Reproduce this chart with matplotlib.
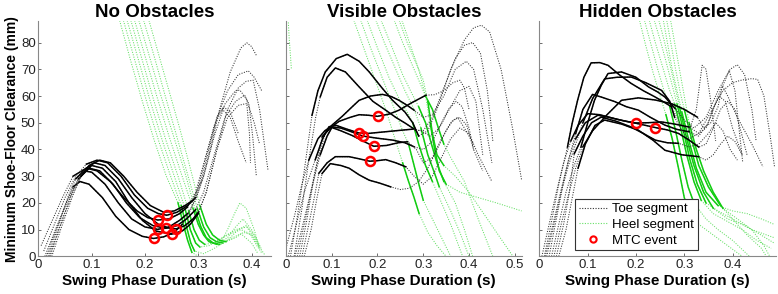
import matplotlib
matplotlib.use('Agg')
import matplotlib.pyplot as plt
from matplotlib.lines import Line2D

plt.rcParams['font.family'] = ['Liberation Sans', 'DejaVu Sans']

# ---------------------------------------------------------------
# data: each curve is a list of (time s, clearance mm) points,
# solid = (first, last) index of the analysed segment
# ---------------------------------------------------------------
titles = ['No Obstacles', 'Visible Obstacles', 'Hidden Obstacles']

# ---- No obstacles ----
no_toe = [
    [(0.012, 0), (0.03, 9), (0.05, 19), (0.065, 26), (0.078, 28), (0.095, 27), (0.12, 22), (0.145, 15),
     (0.17, 10), (0.195, 7.5), (0.216, 6.7), (0.235, 7.3), (0.255, 9), (0.27, 12), (0.285, 17), (0.30, 26),
     (0.315, 38), (0.33, 49), (0.345, 55), (0.36, 52), (0.375, 43), (0.39, 35)],
    [(0.018, 0), (0.035, 10), (0.055, 22), (0.07, 29), (0.085, 32), (0.10, 31.5), (0.125, 27), (0.15, 20),
     (0.175, 14), (0.20, 11), (0.224, 10.1), (0.245, 11), (0.265, 13.5), (0.28, 16), (0.295, 21), (0.31, 30),
     (0.33, 45), (0.35, 57), (0.37, 62), (0.378, 62.2), (0.39, 59), (0.405, 50), (0.415, 42)],
    [(0.005, 4), (0.025, 13), (0.045, 22), (0.065, 30), (0.09, 33), (0.11, 32), (0.135, 28), (0.16, 22),
     (0.185, 17), (0.205, 14.5), (0.224, 13.6), (0.245, 14), (0.265, 16), (0.28, 18.5), (0.295, 24),
     (0.315, 38), (0.335, 52), (0.355, 62), (0.375, 68), (0.394, 69.4), (0.405, 67), (0.419, 62)],
    [(0.022, 0), (0.04, 11), (0.06, 22), (0.075, 29), (0.095, 33), (0.115, 32), (0.14, 27), (0.165, 20),
     (0.19, 14.5), (0.215, 11.5), (0.239, 10.5), (0.26, 11.5), (0.278, 14), (0.295, 17.5), (0.31, 24),
     (0.33, 38), (0.35, 52), (0.37, 58), (0.387, 60.3), (0.395, 57), (0.402, 45), (0.409, 30)],
    [(0.01, 2), (0.03, 12), (0.05, 22), (0.07, 30), (0.09, 34.5), (0.11, 36), (0.13, 35), (0.155, 30),
     (0.18, 23), (0.205, 18), (0.225, 16), (0.241, 15.4), (0.26, 16.5), (0.28, 19), (0.295, 22), (0.31, 30),
     (0.325, 42), (0.34, 55), (0.36, 69), (0.38, 78), (0.391, 79.9), (0.40, 78.5), (0.409, 75.2)],
    [(0.025, 0), (0.045, 12), (0.065, 23), (0.08, 30), (0.10, 34), (0.12, 33), (0.145, 28), (0.17, 20),
     (0.195, 13.5), (0.22, 9.5), (0.25, 8.3), (0.27, 9.5), (0.285, 12), (0.30, 16), (0.315, 24), (0.335, 40),
     (0.355, 52), (0.375, 56.5), (0.391, 57.2), (0.396, 46), (0.398, 35)],
    [(0.015, 0), (0.035, 11), (0.055, 21), (0.075, 29), (0.09, 33), (0.105, 35), (0.125, 34), (0.15, 29),
     (0.175, 22), (0.20, 16), (0.225, 12), (0.245, 10.6), (0.259, 10.3), (0.275, 11.5), (0.29, 14),
     (0.30, 16.5), (0.315, 24), (0.335, 40), (0.355, 55), (0.375, 63), (0.39, 65.5), (0.403, 65.9),
     (0.415, 55), (0.431, 32)],
    [(0.02, 0), (0.04, 11), (0.06, 22), (0.08, 30), (0.095, 34), (0.115, 36), (0.135, 35), (0.16, 30),
     (0.185, 24), (0.21, 19), (0.235, 16.5), (0.255, 17), (0.275, 19), (0.29, 21), (0.305, 28), (0.32, 40),
     (0.335, 52), (0.347, 56), (0.36, 54), (0.375, 46)],
]
no_toe_solid = [(3, 13), (3, 13), (3, 13), (3, 13), (4, 14), (3, 13), (4, 15), (3, 13)]

no_heel = [
    [(0.150, 90), (0.172, 74), (0.195, 58), (0.218, 43), (0.24, 30), (0.262, 20), (0.272, 12), (0.28, 6),
     (0.288, 1.5), (0.30, 0)],
    [(0.157, 90), (0.18, 74), (0.203, 58), (0.226, 43), (0.248, 30), (0.268, 19), (0.278, 11), (0.286, 5),
     (0.293, 2), (0.31, 1), (0.33, 3), (0.355, 6), (0.38, 8.5), (0.40, 5), (0.412, 1)],
    [(0.164, 90), (0.187, 74), (0.21, 58), (0.233, 43), (0.255, 30), (0.275, 18), (0.285, 10), (0.295, 5),
     (0.303, 3.5), (0.32, 4), (0.345, 7), (0.37, 10), (0.391, 11), (0.405, 7), (0.415, 3)],
    [(0.171, 90), (0.194, 74), (0.217, 58), (0.24, 43), (0.262, 30), (0.282, 17), (0.292, 10), (0.302, 6),
     (0.312, 4.5), (0.33, 5), (0.355, 8), (0.38, 10), (0.397, 8.5), (0.41, 4), (0.42, 1)],
    [(0.178, 90), (0.2, 75), (0.222, 60), (0.245, 45), (0.268, 31), (0.29, 18), (0.30, 12), (0.31, 8),
     (0.32, 5.5), (0.335, 4.5), (0.355, 7), (0.37, 11), (0.384, 14), (0.40, 10), (0.415, 4)],
    [(0.186, 90), (0.208, 75), (0.23, 60), (0.252, 46), (0.274, 32), (0.295, 17), (0.305, 11), (0.315, 7),
     (0.328, 5), (0.34, 4.5), (0.355, 10), (0.368, 16), (0.378, 20), (0.39, 18), (0.405, 10), (0.415, 3)],
    [(0.195, 90), (0.217, 75), (0.238, 60), (0.258, 46), (0.278, 32), (0.298, 18), (0.31, 11), (0.322, 7),
     (0.334, 5.5), (0.346, 5), (0.36, 7), (0.375, 10), (0.39, 11.5), (0.405, 8), (0.418, 3)],
    [(0.205, 90), (0.225, 76), (0.245, 62), (0.265, 48), (0.285, 33), (0.303, 19), (0.315, 12), (0.327, 8),
     (0.34, 6), (0.352, 5.5), (0.37, 7), (0.385, 9), (0.40, 8), (0.413, 4), (0.425, 0.5)],
]
no_heel_solid = [(5, 8), (5, 8), (5, 8), (5, 8), (5, 9), (5, 9), (5, 9), (5, 9)]

no_mtc_x = [0.216, 0.224, 0.224, 0.241, 0.239, 0.250, 0.259]
no_mtc_y = [6.7, 13.6, 10.1, 15.4, 10.5, 8.3, 10.3]

# ---- Visible obstacles ----
vis_toe = [
    [(0.01, 0), (0.025, 15), (0.04, 32), (0.057, 52.8), (0.07, 62), (0.086, 69), (0.11, 74), (0.134, 75.6),
     (0.16, 73), (0.182, 69), (0.21, 63), (0.233, 58.4), (0.26, 54), (0.277, 50), (0.29, 45), (0.31, 47),
     (0.33, 55), (0.36, 70), (0.39, 81), (0.41, 85.5), (0.427, 86.5), (0.445, 84), (0.47, 70), (0.495, 48),
     (0.515, 28.5)],
    [(0.018, 0), (0.035, 18), (0.05, 36), (0.065, 52), (0.075, 59.7), (0.09, 67), (0.108, 70.5), (0.13, 69),
     (0.16, 63.4), (0.19, 58), (0.218, 54.7), (0.24, 52), (0.262, 49.7), (0.284, 47.2), (0.30, 47),
     (0.32, 52), (0.345, 63), (0.37, 74), (0.39, 79), (0.408, 80), (0.425, 76), (0.44, 62), (0.452, 43.2)],
    [(0.03, 0), (0.045, 13), (0.06, 28), (0.079, 44.7), (0.10, 49), (0.123, 52.4), (0.145, 56), (0.16, 58.4),
     (0.185, 60), (0.211, 60.6), (0.23, 59.8), (0.247, 58.4), (0.265, 56.5), (0.28, 54.7), (0.30, 52),
     (0.32, 53), (0.345, 60), (0.37, 70), (0.394, 73), (0.41, 70), (0.43, 55), (0.45, 35)],
    [(0.025, 0), (0.045, 16), (0.065, 33), (0.086, 46), (0.10, 48.5), (0.116, 50.5), (0.14, 52), (0.16, 53),
     (0.18, 52.8), (0.20, 52.4), (0.225, 53.2), (0.247, 54.7), (0.275, 57.5), (0.306, 60.3), (0.325, 60.5),
     (0.345, 62), (0.365, 65), (0.38, 65.9), (0.39, 63), (0.40, 55)],
    [(0.005, 0), (0.02, 10), (0.04, 24), (0.064, 36.1), (0.08, 44), (0.094, 48.5), (0.11, 49), (0.135, 47.5),
     (0.159, 46.2), (0.18, 46), (0.21, 46.5), (0.24, 47), (0.277, 47.6), (0.295, 47), (0.315, 45),
     (0.335, 48), (0.36, 56), (0.38, 62), (0.40, 63.6), (0.415, 58), (0.43, 38)],
    [(0.02, 0), (0.04, 14), (0.06, 28), (0.075, 38), (0.09, 45), (0.101, 48.4), (0.12, 48), (0.145, 46.5),
     (0.168, 45), (0.2, 44.2), (0.233, 43.5), (0.26, 42.5), (0.28, 41), (0.30, 40), (0.32, 43), (0.34, 50),
     (0.355, 55), (0.372, 58), (0.385, 56), (0.40, 48), (0.41, 40)],
    [(0.0, 3), (0.02, 16), (0.035, 27), (0.05, 36), (0.07, 44), (0.085, 47), (0.097, 48.4), (0.12, 47),
     (0.145, 45.2), (0.17, 43), (0.192, 41.2), (0.22, 41.5), (0.245, 42.5), (0.266, 42.9), (0.285, 40),
     (0.30, 35), (0.32, 37), (0.34, 44), (0.36, 50), (0.375, 52), (0.39, 48), (0.41, 42)],
    [(0.035, 0), (0.05, 12), (0.062, 22), (0.072, 31.1), (0.09, 35), (0.108, 37.3), (0.138, 37.3),
     (0.16, 36.5), (0.183, 35.6), (0.2, 35.8), (0.218, 36.2), (0.24, 35), (0.262, 33.5), (0.28, 30),
     (0.30, 27), (0.32, 30), (0.34, 37), (0.36, 44), (0.38, 48), (0.40, 46), (0.42, 38), (0.45, 28)],
    [(0.04, 0), (0.055, 10), (0.068, 22), (0.079, 31), (0.097, 34.7), (0.12, 34), (0.138, 33), (0.16, 30.5),
     (0.182, 28.5), (0.205, 27.4), (0.229, 26), (0.25, 25), (0.27, 25.5), (0.29, 28), (0.31, 33), (0.33, 40),
     (0.35, 47), (0.365, 51), (0.38, 52), (0.395, 49), (0.41, 40), (0.43, 32)],
]
vis_toe_solid = [(3, 14), (4, 13), (3, 13), (3, 13), (3, 12), (3, 12), (3, 13), (3, 12), (3, 10)]

vis_heel = [
    [(0.003, 95), (0.007, 82), (0.012, 70)],
    [(0.145, 90), (0.17, 78), (0.195, 66), (0.22, 54), (0.24, 43), (0.255, 35), (0.268, 28), (0.28, 22),
     (0.291, 16), (0.31, 9), (0.33, 4), (0.35, 0)],
    [(0.16, 90), (0.185, 78), (0.21, 67), (0.235, 56), (0.255, 47), (0.268, 42), (0.28, 34), (0.292, 26),
     (0.30, 21), (0.32, 14), (0.34, 7), (0.36, 0)],
    [(0.174, 90), (0.20, 78), (0.225, 67), (0.25, 58), (0.265, 54), (0.277, 50), (0.29, 42), (0.305, 34),
     (0.32, 28), (0.34, 20), (0.36, 12), (0.386, 0)],
    [(0.193, 90), (0.215, 80), (0.24, 70), (0.26, 62), (0.28, 55), (0.295, 48), (0.31, 38), (0.325, 31),
     (0.335, 26), (0.36, 17), (0.38, 9), (0.40, 0)],
    [(0.204, 90), (0.23, 79), (0.255, 68), (0.275, 61), (0.29, 56), (0.305, 50), (0.318, 42), (0.33, 35),
     (0.345, 28), (0.37, 20), (0.39, 10), (0.408, 0)],
    [(0.233, 90), (0.255, 80), (0.275, 72), (0.29, 66), (0.305, 60), (0.32, 55), (0.335, 47), (0.345, 42),
     (0.36, 37), (0.39, 28), (0.42, 14), (0.452, 0)],
    [(0.244, 90), (0.265, 80), (0.285, 72), (0.3, 66), (0.31, 58), (0.32, 46), (0.33, 38), (0.345, 34),
     (0.37, 30), (0.40, 24), (0.44, 14), (0.496, 0)],
    [(0.25, 90), (0.27, 80), (0.29, 70), (0.305, 60), (0.315, 50), (0.325, 40), (0.335, 32), (0.35, 27),
     (0.38, 24), (0.42, 22), (0.46, 20), (0.515, 17)],
]
vis_heel_solid = [None, (5, 8), (5, 8), (5, 8), (5, 8), (4, 8), (4, 7), (4, 7), (4, 7)]

vis_mtc_x = [0.201, 0.159, 0.168, 0.192, 0.183]
vis_mtc_y = [52.4, 46.2, 45.0, 41.2, 35.6]

# ---- Hidden obstacles ----
hid_toe = [
    [(0.01, 0), (0.025, 13), (0.04, 27), (0.058, 40.9), (0.068, 50), (0.079, 58.4), (0.092, 67),
     (0.107, 72.4), (0.125, 72.5), (0.142, 71.5), (0.165, 68), (0.19, 64.7), (0.215, 62), (0.24, 59.6),
     (0.26, 57.5), (0.274, 55.9), (0.29, 50), (0.31, 47), (0.325, 55), (0.337, 71.5), (0.345, 70),
     (0.355, 58), (0.365, 43.2)],
    [(0.02, 0), (0.035, 14), (0.05, 28), (0.063, 38), (0.075, 45.9), (0.09, 55), (0.11, 60.6), (0.13, 59.5),
     (0.156, 57.9), (0.18, 56), (0.205, 54.7), (0.23, 52), (0.26, 49.1), (0.285, 47.5), (0.31, 46.6),
     (0.33, 45), (0.35, 50), (0.37, 60), (0.385, 66), (0.393, 69.6), (0.405, 62), (0.421, 35.3)],
    [(0.025, 0), (0.04, 12), (0.055, 24), (0.07, 33), (0.086, 40.9), (0.10, 50), (0.114, 58.4), (0.128, 64),
     (0.142, 68.4), (0.17, 69), (0.20, 67), (0.226, 63.4), (0.245, 61.5), (0.26, 59.6), (0.281, 55.3),
     (0.30, 51), (0.32, 48), (0.345, 52), (0.37, 62), (0.395, 70), (0.41, 71.7), (0.425, 68), (0.44, 55),
     (0.449, 43)],
    [(0.015, 0), (0.03, 12), (0.045, 24), (0.06, 34), (0.075, 42), (0.09, 50), (0.11, 59), (0.135, 66.4),
     (0.16, 67), (0.19, 67.1), (0.22, 65), (0.253, 62.1), (0.27, 58), (0.28, 52), (0.295, 47), (0.31, 44),
     (0.33, 46), (0.355, 54), (0.38, 62), (0.40, 65), (0.42, 66), (0.44, 66.5), (0.452, 66.2), (0.465, 60),
     (0.478, 45), (0.487, 33.5)],
    [(0.03, 0), (0.045, 12), (0.06, 23), (0.075, 33), (0.09, 41), (0.11, 47), (0.14, 53), (0.17, 58.4),
     (0.205, 59.3), (0.24, 58.5), (0.274, 57.1), (0.30, 55), (0.327, 52.1), (0.34, 48), (0.355, 50),
     (0.37, 56), (0.379, 63.8), (0.39, 60), (0.41, 52), (0.44, 42), (0.463, 33.5)],
    [(0.005, 0), (0.02, 12), (0.035, 24), (0.05, 35), (0.065, 43.2), (0.08, 49), (0.10, 53.4), (0.125, 53),
     (0.156, 51.5), (0.18, 50.5), (0.199, 49.9), (0.225, 50), (0.253, 50.3), (0.28, 49.5), (0.31, 48.4),
     (0.33, 46), (0.345, 48), (0.36, 55), (0.372, 60), (0.385, 58), (0.40, 48), (0.42, 38)],
    [(0.012, 0), (0.028, 12), (0.045, 25), (0.06, 36), (0.075, 44), (0.095, 50), (0.121, 52.8), (0.145, 52),
     (0.17, 50.9), (0.2, 49.8), (0.24, 48.2), (0.265, 47.3), (0.288, 46), (0.31, 43.5), (0.33, 40.9),
     (0.345, 42), (0.36, 48), (0.375, 55), (0.39, 58), (0.405, 55), (0.42, 45), (0.43, 38)],
    [(0.035, 0), (0.05, 12), (0.062, 24), (0.072, 38.4), (0.09, 45), (0.108, 50), (0.128, 52.1),
     (0.16, 50.5), (0.19, 48.4), (0.215, 46), (0.24, 43.5), (0.265, 42.5), (0.288, 42.3), (0.31, 41),
     (0.33, 42), (0.35, 46), (0.365, 50), (0.38, 47), (0.395, 40), (0.41, 36)],
    [(0.04, 0), (0.055, 10), (0.068, 22), (0.08, 33), (0.095, 42), (0.115, 49), (0.135, 51), (0.17, 49.5),
     (0.205, 47.2), (0.235, 43.5), (0.26, 39.7), (0.295, 38), (0.33, 37.3), (0.345, 36), (0.36, 38),
     (0.375, 42), (0.39, 45), (0.405, 43), (0.42, 38)],
]
hid_toe_solid = [(3, 15), (4, 14), (4, 14), (5, 13), (4, 12), (4, 14), (4, 14), (3, 12), (3, 12)]

hid_heel = [
    [(0.205, 90), (0.22, 79), (0.235, 69), (0.25, 60), (0.262, 53), (0.275, 44), (0.288, 33), (0.30, 22),
     (0.31, 17), (0.33, 12), (0.36, 8), (0.39, 4), (0.42, 0)],
    [(0.215, 90), (0.23, 80), (0.245, 70), (0.258, 62), (0.27, 56), (0.282, 47), (0.295, 36), (0.308, 26),
     (0.32, 20), (0.345, 14), (0.37, 10), (0.40, 6), (0.435, 0)],
    [(0.225, 90), (0.24, 80), (0.255, 71), (0.268, 63), (0.28, 57), (0.29, 50), (0.305, 38), (0.32, 28),
     (0.335, 21), (0.36, 16), (0.39, 13), (0.42, 10), (0.45, 6), (0.48, 3)],
    [(0.235, 90), (0.25, 81), (0.262, 73), (0.275, 64), (0.285, 57), (0.297, 48), (0.312, 36), (0.327, 27),
     (0.345, 20), (0.37, 17), (0.40, 14), (0.44, 10), (0.486, 7)],
    [(0.245, 90), (0.258, 81), (0.27, 72), (0.28, 64), (0.29, 56), (0.305, 44), (0.32, 34), (0.34, 24),
     (0.36, 18), (0.39, 14), (0.42, 12), (0.45, 9), (0.486, 5)],
    [(0.255, 90), (0.265, 80), (0.275, 70), (0.285, 62), (0.295, 54), (0.31, 43), (0.325, 33), (0.345, 24),
     (0.37, 19), (0.40, 17), (0.43, 16), (0.46, 14), (0.486, 12)],
    [(0.262, 90), (0.272, 80), (0.282, 70), (0.292, 61), (0.30, 55), (0.315, 44), (0.33, 34), (0.35, 26),
     (0.375, 19), (0.40, 14), (0.43, 8), (0.46, 3), (0.47, 0)],
    [(0.27, 90), (0.28, 80), (0.29, 70), (0.3, 60), (0.31, 50), (0.325, 40), (0.34, 32), (0.36, 24),
     (0.38, 18), (0.41, 14), (0.44, 10), (0.465, 4), (0.477, 0)],
]
hid_heel_solid = [(4, 8), (4, 8), (4, 8), (4, 8), (4, 8), (4, 8), (4, 8), (4, 8)]

hid_mtc_x = [0.199, 0.240]
hid_mtc_y = [49.9, 48.2]

x_limits = [0.436, 0.515, 0.49]
x_ticks = [[0, 0.1, 0.2, 0.3, 0.4], [0, 0.1, 0.2, 0.3, 0.4, 0.5], [0, 0.1, 0.2, 0.3, 0.4]]

panels = [
    (no_toe, no_toe_solid, no_heel, no_heel_solid, no_mtc_x, no_mtc_y),
    (vis_toe, vis_toe_solid, vis_heel, vis_heel_solid, vis_mtc_x, vis_mtc_y),
    (hid_toe, hid_toe_solid, hid_heel, hid_heel_solid, hid_mtc_x, hid_mtc_y),
]

# ---------------------------------------------------------------
TOE_DOT = '#333333'
HEEL_DOT = '#66e066'
HEEL_SOLID = '#11cc11'
dots = (0, (1, 1.4))

fig = plt.figure(figsize=(7.78, 2.94), dpi=100)
boxes = [[0.0494, 0.128, 0.2986, 0.800],
         [0.3675, 0.128, 0.3030, 0.800],
         [0.6934, 0.128, 0.3040, 0.800]]


def draw_curves(ax, curves, solids, dot_color, solid_color, lw_solid):
    for pts, sol in zip(curves, solids):
        xs = [p[0] for p in pts]
        ys = [p[1] for p in pts]
        ax.plot(xs, ys, linestyle=dots, color=dot_color, linewidth=0.75)
        if sol is not None:
            i0, i1 = sol
            ax.plot(xs[i0:i1 + 1], ys[i0:i1 + 1], '-', color=solid_color, linewidth=lw_solid)


for i, (toe, toe_sol, heel, heel_sol, mx, my) in enumerate(panels):
    ax = fig.add_axes(boxes[i])
    draw_curves(ax, heel, heel_sol, HEEL_DOT, HEEL_SOLID, 1.1)
    draw_curves(ax, toe, toe_sol, TOE_DOT, 'black', 1.1)
    ax.plot(mx, my, 'o', markersize=6.5, markerfacecolor='none',
            markeredgecolor='red', markeredgewidth=1.8, zorder=5)

    ax.set_xlim(0, x_limits[i])
    ax.set_ylim(0, 88)
    ax.set_xticks(x_ticks[i])
    ax.set_xticklabels(['0' if t == 0 else f'{t:.1f}' for t in x_ticks[i]])
    ax.set_yticks(range(0, 90, 10))
    if i == 0:
        ax.set_ylabel('Minimum Shoe-Floor Clearance (mm)', fontsize=10, fontweight='bold', labelpad=1)
    else:
        ax.set_yticklabels([])
    ax.set_xlabel('Swing Phase Duration (s)', fontsize=11, fontweight='bold', labelpad=2)
    ax.set_title(titles[i], fontsize=13.5, fontweight='bold', pad=3)
    ax.tick_params(direction='in', length=2.5, width=0.6, labelsize=9.5, pad=2, colors='#555555',
                   labelcolor='#222222')
    for side in ('top', 'right'):
        ax.spines[side].set_visible(False)
    for side in ('left', 'bottom'):
        ax.spines[side].set_color('#888888')
        ax.spines[side].set_linewidth(0.8)

    if i == 2:
        handles = [
            Line2D([], [], linestyle=dots, color=TOE_DOT, linewidth=0.8),
            Line2D([], [], linestyle=dots, color=HEEL_DOT, linewidth=0.8),
            Line2D([], [], linestyle='none', marker='o', markersize=4.5, markerfacecolor='none',
                   markeredgecolor='red', markeredgewidth=1.5),
        ]
        leg = ax.legend(handles, ['Toe segment', 'Heel segment', 'MTC event'],
                        loc='lower left', bbox_to_anchor=(0.15, 0.025), fontsize=9.5,
                        fancybox=False, framealpha=1, edgecolor='#333333',
                        handlelength=2.2, handletextpad=0.3, borderpad=0.3, labelspacing=0.25,
                        borderaxespad=0)
        leg.get_frame().set_linewidth(0.8)

fig.savefig('out.png', dpi=100)
